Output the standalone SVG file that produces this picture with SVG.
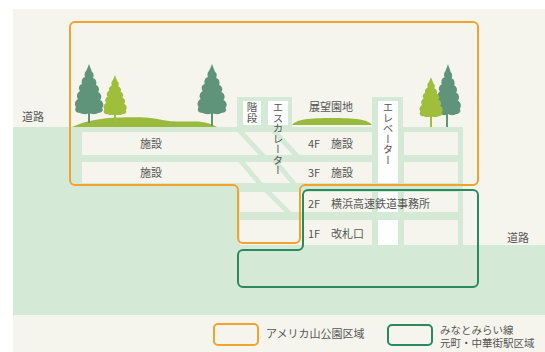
<svg xmlns="http://www.w3.org/2000/svg" width="545" height="352" viewBox="0 0 545 352">
  <defs>
    <style>
      .bg { fill: #f5f5ee; }
      .earth { fill: #d5ead6; }
      .room { fill: #f5f5ee; }
      .shaft { fill: #ffffff; }
      .truss { stroke: #d5ead6; stroke-width: 5; fill: none; }
      .dark { fill: #5f937a; }
      .light { fill: #9fbe3c; }
      .lawn { fill: #9aba3d; }
      .park { fill: none; stroke: #f0a32f; stroke-width: 2; }
      .station { fill: none; stroke: #2a8a5c; stroke-width: 2; }
      .lbl { font-family: "Noto Sans CJK JP", "Noto Sans", sans-serif; font-size: 11px; fill: #555555; }
      .key { font-family: "Noto Sans CJK JP", "Noto Sans", sans-serif; font-size: 10.5px; fill: #555555; }
      .vt { font-family: "Noto Sans CJK JP", "Noto Sans", sans-serif; font-size: 10.5px; fill: #555555; writing-mode: vertical-rl; text-orientation: upright; }
    </style>
    <!-- leafy conifer crown, tip at (0,0), about 30 wide and 50 tall -->
    <path id="conifer" d="M0,0 C1,3 2,5 3,8 C5,9 5,12 4,14 C7,15 8,18 7,21 C10,22 11,26 9,28 C13,30 13,34 11,36 C15,38 15,42 13,44 C15,46 13,49 9,49 C6,51 2,50 0,49 C-3,51 -7,50 -9,49 C-13,49 -15,46 -13,43 C-15,40 -14,37 -11,35 C-13,32 -12,29 -9,27 C-11,24 -10,21 -7,20 C-8,17 -7,14 -4,13 C-5,10 -4,8 -3,7 C-2,5 -1,3 0,0 Z"/>
  </defs>

  <!-- page -->
  <rect x="0" y="0" width="545" height="352" fill="#ffffff"/>
  <rect class="bg" x="13" y="9" width="532" height="343"/>

  <!-- ground: upper level on the left, lower street level on the right -->
  <g id="ground">
    <path class="earth" d="M13,127 H463 V245 H545 V315 H13 Z"/>
  </g>

  <!-- station building section -->
  <g id="building">
    <!-- rooftop structures -->
    <rect class="earth" x="237" y="97" width="55" height="30"/>
    <rect class="earth" x="372" y="97" width="31" height="148"/>
    <!-- floors -->
    <rect class="room" x="82" y="132" width="290" height="23"/>
    <rect class="room" x="404" y="132" width="54" height="23"/>
    <rect class="room" x="82" y="162" width="290" height="21"/>
    <rect class="room" x="404" y="162" width="54" height="21"/>
    <rect class="room" x="240" y="192" width="132" height="20"/>
    <rect class="room" x="404" y="192" width="54" height="20"/>
    <rect class="room" x="240" y="220" width="132" height="25"/>
    <rect class="room" x="404" y="220" width="54" height="25"/>
    <!-- stair, escalator and elevator boxes -->
    <rect class="shaft" x="243" y="101" width="18" height="24"/>
    <rect class="shaft" x="268" y="101" width="20" height="24"/>
    <rect class="shaft" x="378" y="101" width="20" height="82"/>
    <rect class="shaft" x="378" y="192" width="20" height="20"/>
    <rect class="shaft" x="378" y="220" width="20" height="25"/>
  </g>

  <!-- escalator runs -->
  <g id="escalator-runs">
    <line class="truss" x1="239" y1="130" x2="264" y2="157"/>
    <line class="truss" x1="273" y1="130" x2="298" y2="157"/>
    <line class="truss" x1="240" y1="160" x2="262" y2="186"/>
    <line class="truss" x1="274" y1="160" x2="296" y2="186"/>
    <line class="truss" x1="266" y1="190" x2="290" y2="214"/>
  </g>

  <!-- lawns and trees -->
  <g id="lawn-west">
    <path class="lawn" d="M72,127 C85,121 100,118 120,117.5 C135,117 150,117 160,119.5 C170,122 180,121.5 195,121.5 C205,121.5 212,124 217,127 Z"/>
  </g>
  <g id="lawn-deck">
    <path class="lawn" d="M292,125 C296,119 310,118 332,118 C354,118 368,119 372,125 Z"/>
  </g>
  <g id="trees-west">
    <rect class="dark" x="88" y="105" width="2" height="18"/>
    <use href="#conifer" class="dark" transform="translate(89,64)"/>
    <rect class="light" x="114" y="108" width="2" height="14"/>
    <use href="#conifer" class="light" transform="translate(115,75) scale(0.82,0.8)"/>
    <rect class="dark" x="211" y="105" width="2" height="21"/>
    <use href="#conifer" class="dark" transform="translate(212,64) scale(1.03,1)"/>
  </g>
  <g id="trees-east">
    <rect class="dark" x="446" y="108" width="2" height="19"/>
    <use href="#conifer" class="dark" transform="translate(448,64) scale(0.9,1.02)"/>
    <rect class="light" x="430" y="110" width="2" height="17"/>
    <use href="#conifer" class="light" transform="translate(431,77) scale(0.82,0.8)"/>
  </g>

  <!-- zone outlines -->
  <g id="zone-park">
    <path class="park" d="M75,22 H473 A5,5 0 0 1 478,27 V180 A5,5 0 0 1 473,185 H305 A5,5 0 0 0 300,190 V238 A5,5 0 0 1 295,243 H243 A5,5 0 0 1 238,238 V190 A5,5 0 0 0 233,185 H75 A5,5 0 0 1 70,180 V27 A5,5 0 0 1 75,22 Z"/>
  </g>
  <g id="zone-station">
    <path class="station" d="M308,190 H473 A5,5 0 0 1 478,195 V282 A5,5 0 0 1 473,287 H243 A5,5 0 0 1 238,282 V255 A5,5 0 0 1 243,250 H298 A5,5 0 0 0 303,245 V195 A5,5 0 0 1 308,190 Z"/>
  </g>

  <!-- labels -->
  <g id="labels">
    <text class="lbl" x="22" y="121">道路</text>
    <text class="lbl" x="507" y="242">道路</text>
    <text class="lbl" x="151" y="148" text-anchor="middle">施設</text>
    <text class="lbl" x="151" y="177" text-anchor="middle">施設</text>
    <text class="lbl" x="331" y="111" text-anchor="middle">展望園地</text>
    <text class="lbl" x="308" y="148">4F</text>
    <text class="lbl" x="331" y="148">施設</text>
    <text class="lbl" x="308" y="177">3F</text>
    <text class="lbl" x="331" y="177">施設</text>
    <text class="lbl" x="308" y="208">2F</text>
    <text class="lbl" x="331" y="208">横浜高速鉄道事務所</text>
    <text class="lbl" x="308" y="238">1F</text>
    <text class="lbl" x="331" y="238">改札口</text>
    <text class="vt" x="252" y="102">階段</text>
    <text class="vt" x="278" y="102">エスカレーター</text>
    <text class="vt" x="388" y="102">エレベーター</text>
  </g>

  <!-- legend -->
  <g id="legend">
    <rect class="park" x="214" y="324" width="44" height="21" rx="4"/>
    <text class="lbl" x="266" y="338">アメリカ山公園区域</text>
    <rect class="station" x="388" y="325" width="44" height="20" rx="4"/>
    <text class="key" x="440" y="333.5">みなとみらい線</text>
    <text class="key" x="440" y="347">元町・中華街駅区域</text>
  </g>
</svg>
